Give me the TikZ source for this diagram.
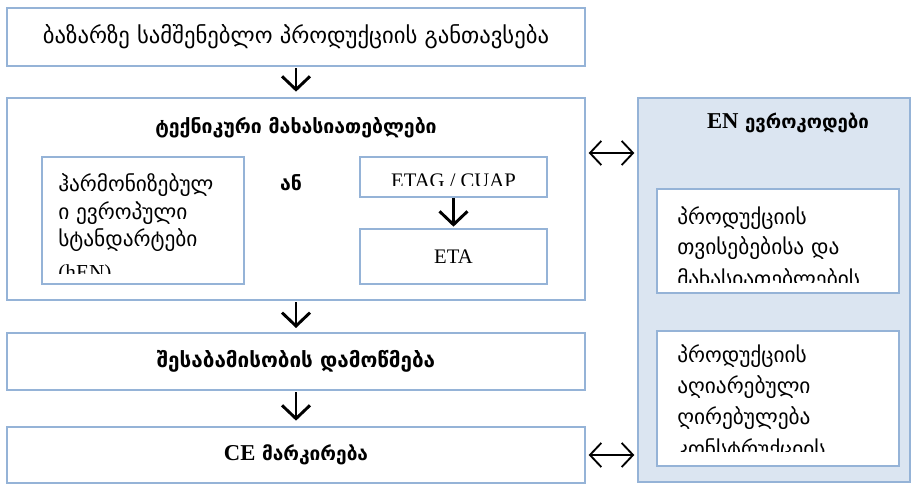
\documentclass[tikz,border=0pt]{standalone}
\usepackage{fontspec}
\setmainfont{Liberation Serif}
\newfontfamily\geo{DejaVu Sans}
\usetikzlibrary{arrows.meta}
\definecolor{bline}{HTML}{95B3D7}
\definecolor{bfill}{HTML}{DBE5F1}
\begin{document}
\begin{tikzpicture}[x=0.75pt,y=-0.75pt,
  box/.style={draw=bline, line width=1.5pt, fill=white, inner sep=0pt},
  bluebox/.style={draw=bline, line width=1.5pt, fill=bfill, inner sep=0pt},
  gtxt/.style={font=\geo\fontsize{16}{18}\selectfont, inner sep=0pt},
  gbold/.style={font=\geo\bfseries\fontsize{14.6}{17}\selectfont, inner sep=0pt},
  ltxt/.style={font=\fontsize{15.5}{18}\selectfont, inner sep=0pt},
  line/.style={gtxt, anchor=base west},
  flow/.style={draw=black, line width=2.2pt, -{Straight Barb[length=10pt,width=21pt,line width=2.2pt]}},
  both/.style={draw=black, line width=1.4pt, {Straight Barb[length=8.5pt,width=18pt,line width=1.4pt]}-{Straight Barb[length=8.5pt,width=18pt,line width=1.4pt]}}
]
\useasboundingbox (0,0) rectangle (911,484);

% left column boxes
\node[box, minimum width=433.5pt, minimum height=43.5pt, gtxt, font=\geo\fontsize{17}{19}\selectfont] (place) at (296,37) {ბაზარზე სამშენებლო პროდუქციის განთავსება};
\node[box, minimum width=433.5pt, minimum height=151.5pt] (tech) at (296,199) {};
\node[gbold] (techt) at (296,128) {ტექნიკური მახასიათებლები};
\node[box, minimum width=151.5pt, minimum height=95.25pt] (hen) at (142.5,220.5) {};
\node[gbold] (or) at (291,183) {ან};
\node[box, minimum width=140.25pt, minimum height=30pt] (etag) at (453.5,177) {};
\node[box, minimum width=140.25pt, minimum height=41.25pt, ltxt] (eta) at (453.5,256.5) {ETA};
\node[box, minimum width=433.5pt, minimum height=42.75pt, gbold, font=\geo\bfseries\fontsize{15.5}{18}\selectfont] (conf) at (296,361.5) {შესაბამისობის დამოწმება};
\node[box, minimum width=433.5pt, minimum height=42pt, gbold, font=\geo\bfseries\fontsize{14.3}{17}\selectfont] (ce) at (296,455) {{\rmfamily\bfseries\fontsize{17}{18}\selectfont CE} მარკირება};

% right column
\node[bluebox, minimum width=204pt, minimum height=288pt] (euro) at (774,290) {};
\node[gbold, font=\geo\bfseries\fontsize{14}{17}\selectfont] (eurot) at (788,123) {{\rmfamily\fontsize{17}{18}\selectfont EN} ევროკოდები};
\node[box, minimum width=181.5pt, minimum height=78pt] (prop) at (778,241) {};
\node[box, minimum width=181.5pt, minimum height=101.25pt] (val) at (778,398.5) {};

% clipped texts
\begin{scope}
  \clip (42,159) rectangle (243,274);
  \node[line] (h1) at (58,192) {ჰარმონიზებულ};
  \node[line] (h2) at (58,220) {ი ევროპული};
  \node[line] (h3) at (58,247) {სტანდარტები};
  \node[line, font=\fontsize{16}{18}\selectfont] (h4) at (58,280) {(hEN)};
\end{scope}
\begin{scope}
  \clip (362,159) rectangle (545,186);
  \node[ltxt, anchor=base] (etagt) at (453.5,188) {ETAG / CUAP};
\end{scope}
\begin{scope}
  \clip (659,191) rectangle (897,283);
  \node[line] (p1) at (677,225) {პროდუქციის};
  \node[line] (p2) at (677,255) {თვისებებისა და};
  \node[line] (p3) at (677,287) {მახასიათებლების};
\end{scope}
\begin{scope}
  \clip (659,333) rectangle (897,452);
  \node[line] (v1) at (677,363) {პროდუქციის};
  \node[line] (v2) at (677,394) {აღიარებული};
  \node[line] (v3) at (677,425) {ღირებულება};
  \node[line] (v4) at (677,457) {კონსტრუქციის};
\end{scope}

% connectors
\draw[flow, shorten <=1pt, shorten >=4pt] (place.south) -- (tech.north);
\draw[flow, shorten <=1pt, shorten >=3pt] (tech.south) -- (conf.north);
\draw[flow, shorten <=1pt, shorten >=4pt] (conf.south) -- (ce.north);
\draw[flow, shorten <=0pt, shorten >=1pt] (etag.south) -- (eta.north);
\coordinate (a1) at (tech.east |- 0,153);
\coordinate (b1) at (euro.west |- 0,153);
\coordinate (a2) at (ce.east);
\coordinate (b2) at (euro.west |- ce.east);
\draw[both, shorten <=2pt, shorten >=2pt] (a1) -- (b1);
\draw[both, shorten <=2pt, shorten >=2pt] (a2) -- (b2);
\end{tikzpicture}
\end{document}
